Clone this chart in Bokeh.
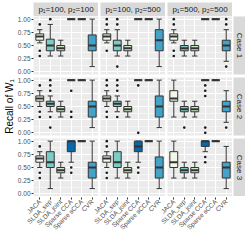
import math
from bokeh.plotting import figure
from bokeh.models import Range1d, FixedTicker, Grid, GridPlot, NumeralTickFormatter
from bokeh.core.properties import value
from bokeh.embed import file_html
from bokeh.resources import INLINE

# ---------------- data ----------------
methods = ["JACA", "SLDA_sep", "SLDA_joint", "Sparse CCA", "Sparse sCCA", "CVR"]
settings = ["p\u2081=100, p\u2082=100", "p\u2081=100, p\u2082=500", "p\u2081=500, p\u2082=500"]
cases = ["Case 1", "Case 2", "Case 3"]
y_title = "Recall of W\u2081"
fill_colors = ["#F0F9E8", "#7BCCC4", "#CCEBC5", "#0868AC", "#4EB3D3", "#43A2CA"]
y_ticks = [0.0, 0.25, 0.5, 0.75, 1.0]
y_minor = [0.125, 0.375, 0.625, 0.875]

# each list: one row per setting (p1/p2), one value per method
case1_low = [[0.55, 0.3, 0.3, 1, 1, 0.1], [0.55, 0.3, 0.3, 1, 1, 0.1], [0.55, 0.3, 0.3, 1, 1, 0.2]]
case1_q1 = [[0.6, 0.4, 0.4, 1, 1, 0.4], [0.6, 0.4, 0.4, 1, 1, 0.4], [0.6, 0.4, 0.4, 1, 1, 0.4]]
case1_med = [[0.67, 0.5, 0.45, 1, 1, 0.5], [0.67, 0.5, 0.45, 1, 1, 0.6], [0.67, 0.45, 0.45, 1, 1, 0.5]]
case1_q3 = [[0.72, 0.62, 0.5, 1, 1, 0.7], [0.72, 0.6, 0.5, 1, 1, 0.8], [0.72, 0.5, 0.5, 1, 1, 0.6]]
case1_up = [[0.8, 0.9, 0.6, 1, 1, 1.0], [0.8, 0.8, 0.6, 1, 1, 1.0], [0.8, 0.6, 0.6, 1, 1, 0.8]]
case1_out = [
    [[0.9, 0.4, 0.3], [1.0], [], [], [], []],
    [[1.0, 0.9, 0.4], [1.0, 0.9, 0.1], [], [], [], []],
    [[1.0, 0.9, 0.4, 0.3], [], [], [], [], [1.0, 0.9, 0.1]],
]

case2_low = [[0.5, 0.4, 0.3, 1, 1, 0.1], [0.5, 0.4, 0.3, 1, 1, 0.1], [0.3, 0.3, 0.3, 1, 1, 0.2]]
case2_q1 = [[0.6, 0.5, 0.4, 1, 1, 0.3], [0.6, 0.5, 0.4, 1, 1, 0.3], [0.6, 0.4, 0.4, 1, 1, 0.4]]
case2_med = [[0.65, 0.55, 0.45, 1, 1, 0.5], [0.65, 0.55, 0.45, 1, 1, 0.5], [0.65, 0.45, 0.45, 1, 1, 0.5]]
case2_q3 = [[0.7, 0.6, 0.5, 1, 1, 0.6], [0.7, 0.6, 0.5, 1, 1, 0.7], [0.8, 0.5, 0.5, 1, 1, 0.6]]
case2_up = [[0.8, 0.7, 0.6, 1, 1, 1.0], [0.8, 0.7, 0.6, 1, 1, 1.0], [1.0, 0.6, 0.6, 1, 1, 0.8]]
case2_out = [
    [[0.9, 0.4, 0.3], [1.0, 0.9, 0.8, 0.3, 0.1], [], [0.8, 0.4, 0.3], [], []],
    [[1.0, 0.9, 0.4, 0.3], [1.0, 0.9, 0.8, 0.3], [], [0.9, 0.0], [], []],
    [[], [0.1], [], [0.9, 0.8, 0.7, 0.1, 0.0], [], [0.1]],
]

case3_low = [[0.5, 0.1, 0.3, 0.6, 1, 0.1], [0.5, 0.3, 0.3, 0.6, 1, 0.1], [0.3, 0.3, 0.3, 0.8, 1, 0.1]]
case3_q1 = [[0.6, 0.5, 0.4, 0.8, 1, 0.3], [0.6, 0.5, 0.4, 0.8, 1, 0.3], [0.5, 0.4, 0.4, 0.9, 1, 0.3]]
case3_med = [[0.67, 0.6, 0.45, 1.0, 1, 0.5], [0.67, 0.6, 0.45, 0.9, 1, 0.5], [0.6, 0.45, 0.45, 1.0, 1, 0.5]]
case3_q3 = [[0.72, 0.8, 0.5, 1.0, 1, 0.6], [0.72, 0.8, 0.5, 1.0, 1, 0.7], [0.8, 0.5, 0.5, 1.0, 1, 0.6]]
case3_up = [[0.8, 1.0, 0.6, 1.0, 1, 1.0], [0.8, 1.0, 0.6, 1.0, 1, 1.0], [1.0, 0.6, 0.6, 1.0, 1, 0.9]]
case3_out = [
    [[0.9, 0.4, 0.3], [], [], [0.5, 0.4], [], []],
    [[1.0, 0.9, 0.4, 0.3], [], [], [0.5, 0.4], [], []],
    [[], [], [], [0.7, 0.6], [], []],
]

LOW = [case1_low, case2_low, case3_low]
Q1 = [case1_q1, case2_q1, case3_q1]
MED = [case1_med, case2_med, case3_med]
Q3 = [case1_q3, case2_q3, case3_q3]
UP = [case1_up, case2_up, case3_up]
OUT = [case1_out, case2_out, case3_out]

# ---------------- layout constants ----------------
FONT = "Liberation Sans"
FW, FH = 65, 58
LEFT = 33             # room for y tick labels and the y-axis title
GAPX = 2
GAPY = 3
SIDE_W = 12
LINE = "#333333"
PANEL_BG = "#EBEBEB"
STRIP_BG = "#D9D9D9"

xs = list(range(1, len(methods) + 1))


def base_fig(**kw):
    p = figure(output_backend="svg", toolbar_location=None, title=None,
               border_fill_color="white", outline_line_color=None, **kw)
    p.grid.visible = False
    return p


def make_panel(ci, si):
    p = base_fig(frame_width=FW, frame_height=FH,
                 x_range=Range1d(0.4, 6.6), y_range=Range1d(-0.05, 1.05),
                 x_axis_location=None,
                 y_axis_location=("left" if si == 0 else None),
                 min_border_left=(LEFT if si == 0 else GAPX), min_border_right=0,
                 min_border_top=0, min_border_bottom=(GAPY if ci < 2 else 0),
                 background_fill_color=PANEL_BG)
    p.add_layout(Grid(dimension=0, ticker=FixedTicker(ticks=xs),
                      grid_line_color="white", grid_line_width=1))
    p.add_layout(Grid(dimension=1, ticker=FixedTicker(ticks=y_ticks, minor_ticks=y_minor),
                      grid_line_color="white", grid_line_width=1,
                      minor_grid_line_color="white", minor_grid_line_width=0.5))
    if si == 0:
        ax = p.yaxis[0]
        ax.ticker = FixedTicker(ticks=y_ticks)
        ax.formatter = NumeralTickFormatter(format="0.00")
        ax.axis_line_color = None
        ax.major_tick_line_color = LINE
        ax.major_tick_out = 2
        ax.major_tick_in = 0
        ax.minor_tick_line_color = None
        ax.major_label_standoff = 1
        ax.major_label_text_font = FONT
        ax.major_label_text_font_size = "6.5px"
        ax.major_label_text_color = "#4D4D4D"
        if ci == 1:
            ax.axis_label = y_title
            ax.axis_label_text_font = FONT
            ax.axis_label_text_font_size = "10px"
            ax.axis_label_text_font_style = "normal"
            ax.axis_label_text_color = "#000000"
            ax.axis_label_standoff = 0

    low, q1, med, q3, up = LOW[ci][si], Q1[ci][si], MED[ci][si], Q3[ci][si], UP[ci][si]
    # whiskers + caps
    p.segment(x0=xs, y0=q3, x1=xs, y1=up, line_color=LINE, line_width=1)
    p.segment(x0=xs, y0=q1, x1=xs, y1=low, line_color=LINE, line_width=1)
    p.segment(x0=[x - 0.25 for x in xs], y0=up, x1=[x + 0.25 for x in xs], y1=up,
              line_color=LINE, line_width=1)
    p.segment(x0=[x - 0.25 for x in xs], y0=low, x1=[x + 0.25 for x in xs], y1=low,
              line_color=LINE, line_width=1)
    # boxes
    p.vbar(x=xs, width=0.75, bottom=q1, top=q3, fill_color=fill_colors,
           line_color=LINE, line_width=1)
    # medians
    p.segment(x0=[x - 0.375 for x in xs], y0=med, x1=[x + 0.375 for x in xs], y1=med,
              line_color=LINE, line_width=2)
    # outliers
    ox, oy = [], []
    for x, vals in zip(xs, OUT[ci][si]):
        ox += [x] * len(vals)
        oy += vals
    if ox:
        p.scatter(x=ox, y=oy, size=2.6, fill_color="#1A1A1A", line_color=None)
    return p


def make_top_strip(si):
    p = base_fig(frame_width=FW, frame_height=14,
                 x_range=Range1d(0, 1), y_range=Range1d(0, 1),
                 x_axis_location=None, y_axis_location=None,
                 min_border_left=(LEFT if si == 0 else GAPX), min_border_right=0,
                 min_border_top=2, min_border_bottom=0,
                 background_fill_color=STRIP_BG)
    p.text(x=[0.5], y=[0.5], text=[settings[si]], text_align="center",
           text_baseline="middle", text_font=value(FONT), text_font_size="8px",
           text_color="#1A1A1A")
    return p


def make_side_strip(ci):
    p = base_fig(frame_width=SIDE_W, frame_height=FH,
                 x_range=Range1d(0, 1), y_range=Range1d(0, 1),
                 x_axis_location=None, y_axis_location=None,
                 min_border_left=1, min_border_right=0,
                 min_border_top=0, min_border_bottom=(GAPY if ci < 2 else 0),
                 background_fill_color=STRIP_BG)
    p.text(x=[0.5], y=[0.5], text=[cases[ci]], angle=-math.pi / 2,
           text_align="center", text_baseline="middle", text_font=value(FONT),
           text_font_size="8px", text_color="#1A1A1A")
    return p


# x-axis labels for the bottom row, on a shared axis spanning the three panels
unit_px = FW / 6.2
gap_u = GAPX / unit_px
span = 6.2 + gap_u
tick_pos = [round(s * span + x, 5) for s in range(3) for x in xs]
lab = base_fig(frame_width=3 * FW + 2 * GAPX, frame_height=1,
               x_range=Range1d(0.4, 0.4 + 3 * 6.2 + 2 * gap_u), y_range=Range1d(0, 1),
               x_axis_location="below", y_axis_location=None,
               min_border_left=LEFT, min_border_right=SIDE_W + 1,
               min_border_top=0, min_border_bottom=0,
               background_fill_color="white")
xa = lab.xaxis[0]
xa.ticker = FixedTicker(ticks=tick_pos)
xa.major_label_overrides = {t: m for t, m in zip(tick_pos, methods * 3)}
xa.major_label_orientation = math.pi / 4
xa.axis_line_color = None
xa.major_tick_line_color = LINE
xa.major_tick_out = 2
xa.major_tick_in = 0
xa.minor_tick_line_color = None
xa.major_label_standoff = 1
xa.major_label_text_font = FONT
xa.major_label_text_font_size = "6.5px"
xa.major_label_text_color = "#4D4D4D"

children = []
for si in range(3):
    children.append((make_top_strip(si), 0, si))
for ci in range(3):
    for si in range(3):
        children.append((make_panel(ci, si), ci + 1, si))
    children.append((make_side_strip(ci), ci + 1, 3))
children.append((lab, 4, 0, 1, 4))

grid = GridPlot(children=children, toolbar_location=None)

open("out.html", "w").write(file_html(grid, INLINE))
